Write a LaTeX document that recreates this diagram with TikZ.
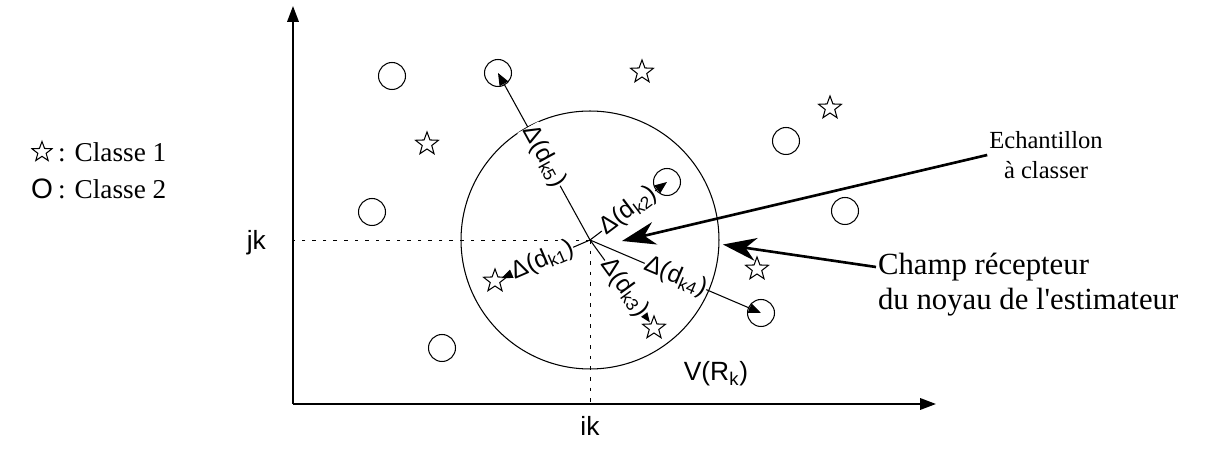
\documentclass[tikz,border=0pt]{standalone}
\usepackage{fontspec}
\setmainfont{Liberation Serif}
\newfontfamily\helv{Liberation Sans}
\usetikzlibrary{shapes.geometric, arrows.meta, positioning, calc}

\begin{document}
\begin{tikzpicture}[x=0.02cm, y=-0.02cm,
  cls/.style={draw, circle, minimum size=0.54cm, inner sep=0pt, line width=0.6pt},
  smp/.style={draw, star, star points=5, star point ratio=2.4, minimum size=0.48cm, inner sep=0pt, line width=0.6pt},
  axis/.style={line width=1.1pt, -{Triangle[length=9pt,width=6.5pt]}},
  guide/.style={dash pattern=on 2pt off 4pt, line width=0.5pt},
  darr/.style={line width=0.6pt, -{Triangle[length=7pt,width=5.5pt]}},
  dlab/.style={sloped, fill=white, inner sep=0.3pt, font=\helv\fontsize{14}{14}\selectfont},
  bigarr/.style={line width=1.5pt, -{Stealth[length=19pt,width=13pt,inset=6pt]}},
  axlab/.style={font=\helv\fontsize{15}{15}\selectfont, inner sep=1pt},
  note/.style={font=\fontsize{17.5}{20}\selectfont, inner sep=1pt},
  small/.style={font=\fontsize{14}{17}\selectfont, align=center, inner sep=1pt}
]
\useasboundingbox (0,0) rectangle (1214,455);

% legend
\node[smp, minimum size=0.42cm] (leg1) at (42,152) {};
\node[note, font=\fontsize{15.5}{18}\selectfont, anchor=west] (leg1t) at (56,152) {: Classe 1};
\node[note, font=\helv\fontsize{16}{16}\selectfont] (leg2) at (42,189) {O};
\node[note, font=\fontsize{15.5}{18}\selectfont, anchor=west] (leg2t) at (56,189) {: Classe 2};

% axes
\coordinate (o) at (293,404);
\coordinate (ytop) at (293,6);
\coordinate (xend) at (936,404);
\draw[axis] (o) -- (ytop);
\draw[axis] (o) -- (xend);

% kernel window
\coordinate (ctr) at (590,240);
\node[draw, circle, minimum size=5.16cm, inner sep=0pt, line width=0.6pt] (kern) at (ctr) {};
\draw[guide] (ctr) -- (ctr -| o);
\draw[guide] (ctr) -- (ctr |- o);
\node[axlab, anchor=east] (jk) at (268,243) {jk};
\node[axlab, anchor=north] (ik) at (590,414) {ik};
\node[axlab] (vr) at (716,374) {V(R\textsubscript{k})};

% classe 2
\node[cls] (o1) at (392,76) {};
\node[cls] (o2) at (498,73) {};
\node[cls] (o3) at (667,182) {};
\node[cls] (o4) at (372,212) {};
\node[cls] (o5) at (761,313) {};
\node[cls] (o6) at (845,211) {};
\node[cls] (o7) at (786,141) {};
\node[cls] (o8) at (442,348) {};

% classe 1
\node[smp] (s1) at (642,72) {};
\node[smp] (s2) at (830,108) {};
\node[smp] (s3) at (427,144) {};
\node[smp] (s4) at (757,269) {};
\node[smp] (s5) at (495,281) {};
\node[smp] (s6) at (654,328) {};

% distances to the neighbours
\draw[darr, shorten >=4pt] (ctr) -- node[dlab, pos=0.5] {Δ(d\textsubscript{k1})} (s5.center);
\draw[darr] (ctr) -- node[dlab, pos=0.5] {Δ(d\textsubscript{k2})} (o3.center);
\draw[darr, shorten >=4pt] (ctr) -- node[dlab, pos=0.54] {Δ(d\textsubscript{k3})} (s6.center);
\draw[darr] (ctr) -- node[dlab, pos=0.5] {Δ(d\textsubscript{k4})} (o5.center);
\draw[darr] (ctr) -- node[dlab, pos=0.5] {Δ(d\textsubscript{k5})} (o2.center);

% annotations
\node[small] (ech) at (1046,155) {Echantillon\\à classer};
\coordinate (samp) at (622,241);
\draw[bigarr] (ech.west) -- (samp);
\node[note, anchor=west] (champa) at (876,267) {Champ récepteur};
\node[note, anchor=west] (champb) at (876,302) {du noyau de l\textquotesingle estimateur};
\draw[bigarr] (champa.west) -- ([xshift=2pt]kern.-2);
\end{tikzpicture}
\end{document}
